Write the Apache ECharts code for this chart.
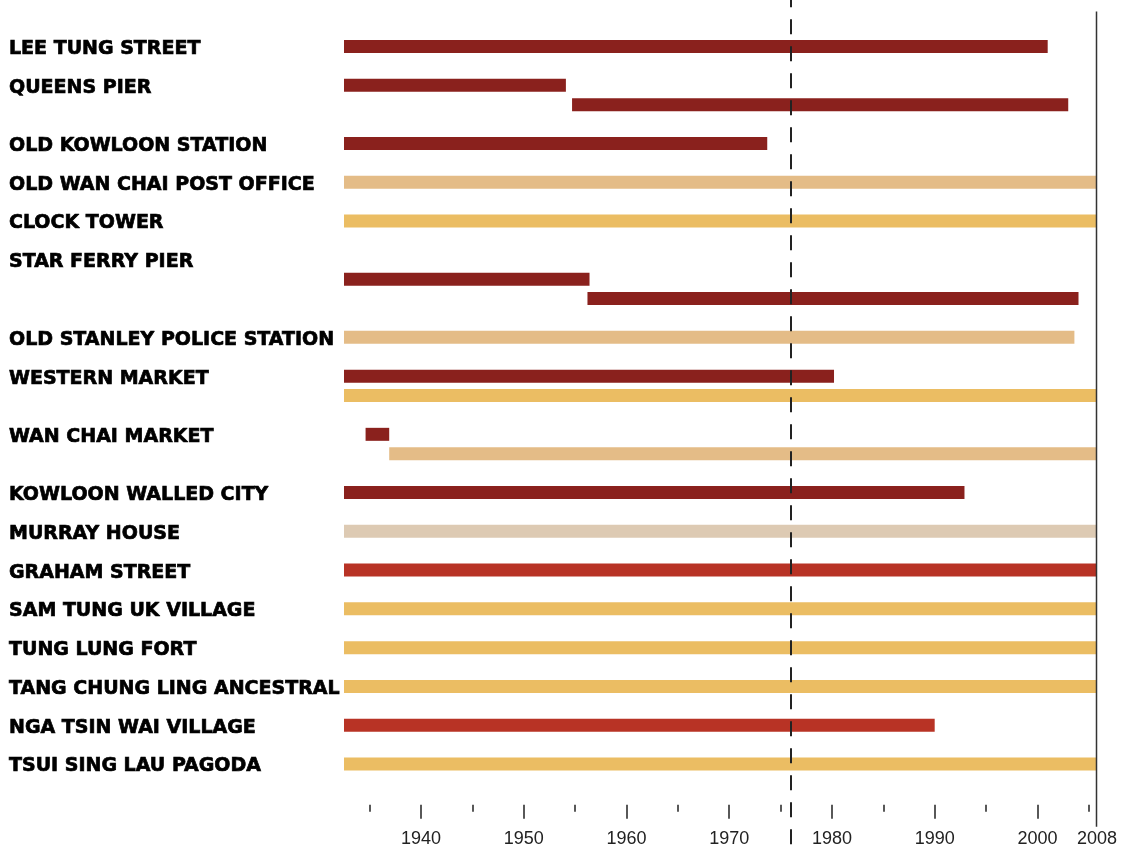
<!DOCTYPE html>
<html>
<head>
<meta charset="utf-8">
<script src="https://cdn.jsdelivr.net/npm/echarts@6/dist/echarts.min.js"></script>
<style>
  html, body { margin: 0; padding: 0; background: #fff; }
  #chart { width: 1123px; height: 851px; }
</style>
</head>
<body>
<div id="chart"></div>
<script>
// row labels (row index -> site name)
const labelRows = [0, 2, 5, 7, 9, 11, 15, 17, 20, 23, 25, 27, 29, 31, 33, 35, 37];
const labelNames = [
  'LEE TUNG STREET', 'QUEENS PIER', 'OLD KOWLOON STATION', 'OLD WAN CHAI POST OFFICE',
  'CLOCK TOWER', 'STAR FERRY PIER', 'OLD STANLEY POLICE STATION', 'WESTERN MARKET',
  'WAN CHAI MARKET', 'KOWLOON WALLED CITY', 'MURRAY HOUSE', 'GRAHAM STREET',
  'SAM TUNG UK VILLAGE', 'TUNG LUNG FORT', 'TANG CHUNG LING ANCESTRAL',
  'NGA TSIN WAI VILLAGE', 'TSUI SING LAU PAGODA'
];

// bars
const barRows   = [0, 2, 3, 5, 7, 9, 12, 13, 15, 17, 18, 20, 21, 23, 25, 27, 29, 31, 33, 35, 37];
const barStarts = [1932.5, 1932.5, 1954.7, 1932.5, 1932.5, 1932.5, 1932.5, 1956.2, 1932.5, 1932.5, 1932.5,
                   1934.6, 1936.9, 1932.5, 1932.5, 1932.5, 1932.5, 1932.5, 1932.5, 1932.5, 1932.5];
const barEnds   = [2001.0, 1954.1, 2003.0, 1973.7, 2008, 2008, 1956.4, 2004.0, 2003.6, 1980.2, 2008,
                   1936.9, 2008, 1992.9, 2008, 2008, 2008, 2008, 2008, 1990.0, 2008];
const barKinds  = ['lost', 'lost', 'lost', 'lost', 'reused', 'kept', 'lost', 'lost', 'reused', 'lost', 'kept',
                   'lost', 'reused', 'lost', 'moved', 'threat', 'kept', 'kept', 'kept', 'threat', 'kept'];

// axis
const majorTicks = [1940, 1950, 1960, 1970, 1980, 1990, 2000];
const minorTicks = [1935, 1945, 1955, 1965, 1975, 1985, 1995, 2005];
const PRESENT = 2008;
const MARK_YEAR = 1976;
const X_MIN = 1932.5;
const X_MAX = 2005.8; // where the "2008" edge sits on the drawn scale

const kindColor = {
  lost: '#8a211d',
  threat: '#b83325',
  kept: '#ebbd63',
  reused: '#e4bc87',
  moved: '#ddcab3'
};

const chart = echarts.init(document.getElementById('chart'));

const barData = barRows.map((r, i) => ({
  value: [barStarts[i], barEnds[i], r],
  itemStyle: { color: kindColor[barKinds[i]] }
}));

const renderBar = (params, api) => {
  const row = api.value(2);
  const s = api.coord([api.value(0), row]);
  const e = api.coord([api.value(1), row]);
  const h = 13;
  const shape = echarts.graphic.clipRectByRect(
    { x: s[0], y: s[1] - h / 2, width: e[0] - s[0], height: h },
    { x: params.coordSys.x, y: params.coordSys.y, width: params.coordSys.width, height: params.coordSys.height }
  );
  return shape && { type: 'rect', shape: shape, style: { fill: api.visual('color') } };
};

const renderMark = (params, api) => {
  const x = Math.round(api.coord([api.value(0), 0])[0]);
  return {
    type: 'line',
    shape: { x1: x, y1: 0, x2: x, y2: api.getHeight() },
    style: { stroke: '#222', lineWidth: 2, lineDash: [15, 12], lineDashOffset: 7.7 }
  };
};

const renderPresent = (params, api) => {
  const x = Math.round(api.coord([X_MAX, 0])[0]) - 0.5;
  const cs = params.coordSys;
  return {
    type: 'line',
    shape: { x1: x, y1: cs.y, x2: x, y2: cs.y + cs.height + 22 },
    style: { stroke: '#333', lineWidth: 1.5 }
  };
};

const tickLabelStyle = {
  color: '#222',
  fontSize: 18,
  fontFamily: '"Liberation Sans", Arial, sans-serif'
};

const option = {
  animation: false,
  grid: { left: 344, right: 26, top: 11.6, bottom: 46.3, containLabel: false },
  xAxis: [
    {
      type: 'value', min: X_MIN, max: X_MAX, position: 'bottom',
      axisLine: { show: false, onZero: false },
      splitLine: { show: false },
      axisTick: { show: true, customValues: majorTicks, length: 14, lineStyle: { color: '#222', width: 1.5 } },
      axisLabel: {
        ...tickLabelStyle,
        margin: 25,
        customValues: majorTicks.concat([X_MAX]),
        formatter: v => (v === X_MAX ? String(PRESENT) : String(v))
      }
    },
    {
      type: 'value', min: X_MIN, max: X_MAX, position: 'bottom',
      axisLine: { show: false, onZero: false },
      splitLine: { show: false },
      axisTick: { show: true, customValues: minorTicks, length: 7, lineStyle: { color: '#222', width: 1.5 } },
      axisLabel: { show: false }
    }
  ],
  yAxis: {
    type: 'value', inverse: true, min: -1.8, max: 39.1,
    axisLine: { show: false, onZero: false },
    axisTick: { show: false },
    splitLine: { show: false },
    axisLabel: {
      customValues: labelRows,
      formatter: v => '{n|' + (labelNames[labelRows.indexOf(v)] || '') + '}',
      align: 'left',
      margin: 335,
      rich: {
        n: {
          color: '#000',
          fontSize: 19,
          fontWeight: 'bold',
          fontFamily: '"DejaVu Sans", sans-serif',
          textBorderColor: '#000',
          textBorderWidth: 0.7,
          padding: [5, 0, 0, 0]
        }
      }
    }
  },
  series: [
    {
      type: 'custom', name: 'bars', renderItem: renderBar,
      encode: { x: [0, 1], y: 2 },
      data: barData
    },
    {
      type: 'custom', name: 'mark', renderItem: renderMark,
      encode: { x: 0 }, clip: false, z: 5,
      data: [[MARK_YEAR]]
    },
    {
      type: 'custom', name: 'present', renderItem: renderPresent,
      clip: false, z: 5,
      data: [[PRESENT]]
    }
  ]
};

chart.setOption(option);
</script>
</body>
</html>
